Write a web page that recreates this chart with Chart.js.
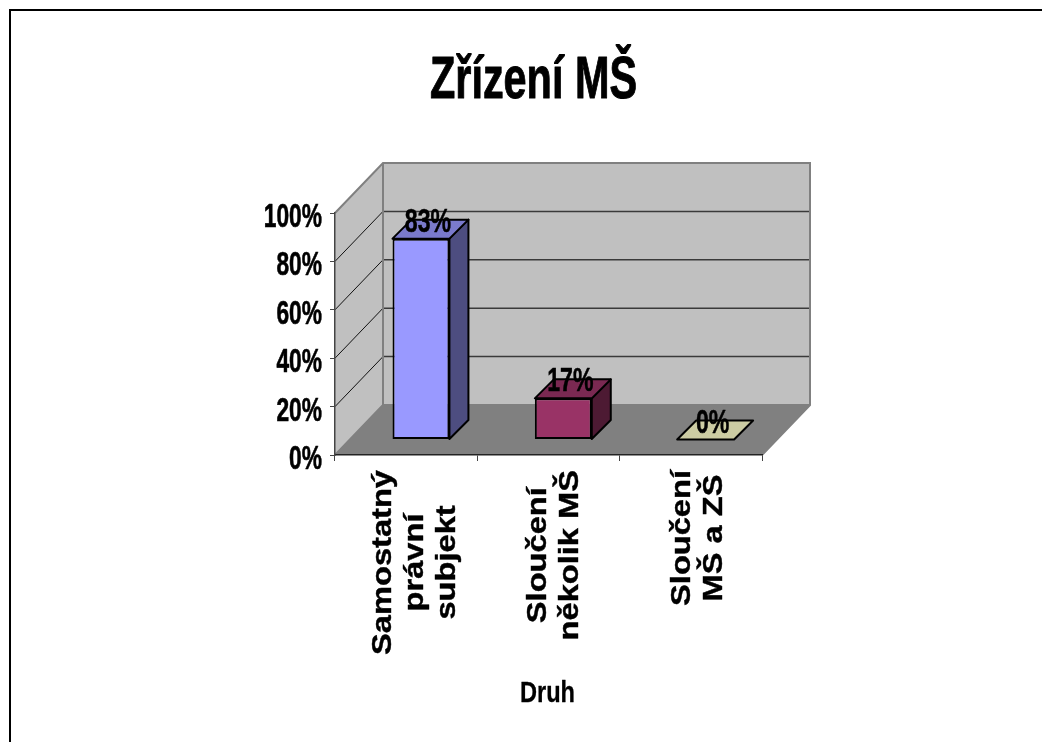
<!DOCTYPE html>
<html><head><meta charset="utf-8">
<style>html,body{margin:0;padding:0;background:#fff}canvas{display:block}</style>
<script src="https://cdn.jsdelivr.net/npm/chart.js@4"></script>
</head><body>
<div style="width:1042px;height:742px"><canvas id="c" width="1042" height="742"></canvas></div>
<script>
const titleText = 'Zřízení MŠ';
const axisTitle = 'Druh';
const categories = [['Samostatný','právní','subjekt'],['Sloučení','několik MŠ'],['Sloučení','MŠ a ZŠ']];
const values = [83, 17, 0];
const valueLabels = ['83%','17%','0%'];
const yTicks = [0,20,40,60,80,100];
const frontColors = ['#9999FF','#993366','#FFFFCC'];
const sideColors = ['#4D4D80','#4D1A33','#80806A'];
const topColors = ['#7A7ACC','#7A2952','#CCCCA3'];
const FONT = '"Liberation Sans",Arial,sans-serif';
const WALL = {dx:48, dy:50}, SHIFT = {dx:14.8, dy:-15.5}, BAR = {dx:19, dy:-19};
const labelNudge = [9,6,7];

function poly(ctx, pts, fill, stroke, lw){
  ctx.beginPath(); pts.forEach((p,i)=> i?ctx.lineTo(p[0],p[1]):ctx.moveTo(p[0],p[1])); ctx.closePath();
  if(fill){ctx.fillStyle=fill;ctx.fill();}
  if(stroke){ctx.strokeStyle=stroke;ctx.lineWidth=lw;ctx.lineJoin='round';ctx.stroke();}
}
function squeezed(ctx,s,x,y,size,sx,align,heavy){
  ctx.save();
  ctx.font='bold '+size+'px '+FONT;
  ctx.textAlign=align||'center';ctx.textBaseline='alphabetic';ctx.fillStyle='#000';ctx.strokeStyle='#000';
  ctx.translate(x,y);ctx.scale(sx,1);ctx.fillText(s,0,0);
  ctx.lineWidth=heavy;ctx.lineJoin='round';ctx.strokeText(s,0,0);
  ctx.restore();
}
const scene = {
  id:'scene',
  beforeDraw(chart){
    const {ctx, scales:{x,y}} = chart;
    const L=x.left,R=x.right,B=y.getPixelForValue(0),T=y.getPixelForValue(100);
    ctx.save();
    ctx.fillStyle='#fff';ctx.fillRect(0,0,chart.width,chart.height);
    ctx.fillStyle='#000';ctx.fillRect(9,9,chart.width-9,2);ctx.fillRect(9,9,2,chart.height-9);
    const d=WALL;
    poly(ctx,[[L+d.dx,B-d.dy],[R+d.dx,B-d.dy],[R+d.dx,T-d.dy],[L+d.dx,T-d.dy]],'#C0C0C0');
    poly(ctx,[[L,B],[L,T],[L+d.dx,T-d.dy],[L+d.dx,B-d.dy]],'#C0C0C0');
    poly(ctx,[[L,B],[R,B],[R+d.dx,B-d.dy],[L+d.dx,B-d.dy]],'#808080');
    yTicks.forEach(v=>{
      if(v===0||v===100)return;
      const p=y.getPixelForValue(v);
      ctx.beginPath();ctx.moveTo(L,p);ctx.lineTo(L+d.dx,p-d.dy);
      ctx.strokeStyle='#111';ctx.lineWidth=1;ctx.stroke();
      ctx.beginPath();ctx.moveTo(L+d.dx,p-d.dy);ctx.lineTo(R+d.dx,p-d.dy);
      ctx.strokeStyle='#3a3a3a';ctx.lineWidth=1.5;ctx.stroke();
    });
    ctx.beginPath();
    ctx.moveTo(L,T);ctx.lineTo(L+d.dx,T-d.dy);ctx.lineTo(R+d.dx,T-d.dy);ctx.lineTo(R+d.dx,B-d.dy);ctx.lineTo(R,B);
    ctx.moveTo(L+d.dx,T-d.dy);ctx.lineTo(L+d.dx,B-d.dy);ctx.lineTo(R+d.dx,B-d.dy);
    ctx.moveTo(L+d.dx,B-d.dy);ctx.lineTo(L,B);
    ctx.strokeStyle='#808080';ctx.lineWidth=2;ctx.stroke();
    ctx.restore();
  },
  beforeDatasetsDraw(chart){
    const ctx=chart.ctx;
    ctx.save();
    ctx.translate(SHIFT.dx,SHIFT.dy);
    chart.getDatasetMeta(0).data.forEach((el,i)=>{
      const {x,y,base,width}=el.getProps(['x','y','base','width'],true);
      const l=x-width/2,r=x+width/2,b=BAR;
      if(values[i]>0) poly(ctx,[[r,y],[r+b.dx,y+b.dy],[r+b.dx,base+b.dy],[r,base]],sideColors[i],'#000',2);
      poly(ctx,[[l,y],[l+b.dx,y+b.dy],[r+b.dx,y+b.dy],[r,y]],topColors[i],'#000',2);
    });
  },
  afterDatasetsDraw(chart){
    const ctx=chart.ctx;
    ctx.restore();
    chart.getDatasetMeta(0).data.forEach((el,i)=>{
      const {x,y}=el.getProps(['x','y'],true);
      squeezed(ctx,valueLabels[i],x+SHIFT.dx+7,y+SHIFT.dy-7,33,0.7,'center',0.5);
    });
  },
  afterDraw(chart){
    const {ctx,scales:{x,y}}=chart;
    squeezed(ctx,titleText,533.5,98,60,0.69,'center',1);
    squeezed(ctx,axisTitle,(x.left+x.right)/2-1,702,30,0.786,'center',0.3);
    yTicks.forEach(v=>squeezed(ctx,v+'%',322,y.getPixelForValue(v)+14,33.5,0.68,'right',0.6));
    ctx.save();
    ctx.fillStyle='#000';ctx.strokeStyle='#000';ctx.lineWidth=0.4;ctx.textAlign='center';ctx.textBaseline='middle';
    ctx.font='bold 28px '+FONT;
    const stretch=1.165, pitch=32;
    categories.forEach((lines,i)=>{
      const cx=x.getPixelForTick(i)+labelNudge[i];
      const maxLen=Math.max(...lines.map(s=>ctx.measureText(s).width))*stretch;
      const cy=470+maxLen/2;
      lines.forEach((s,j)=>{
        ctx.save();
        ctx.translate(cx+(j-(lines.length-1)/2)*pitch,cy);
        ctx.rotate(-Math.PI/2);
        ctx.scale(stretch,1);
        ctx.fillText(s,0,0);ctx.strokeText(s,0,0);
        ctx.restore();
      });
    });
    ctx.restore();
  }
};
new Chart(document.getElementById('c'),{
  type:'bar',
  data:{labels:categories.map(l=>l.join(' ')),datasets:[{data:values,backgroundColor:frontColors,borderColor:'#000',borderWidth:2,borderSkipped:false,barPercentage:0.4,categoryPercentage:1}]},
  plugins:[scene],
  options:{
    responsive:false,animation:false,
    layout:{padding:{left:0,right:280,top:213,bottom:0}},
    plugins:{legend:{display:false},tooltip:{enabled:false},title:{display:false}},
    scales:{
      x:{
        afterFit(s){s.height=287;},
        grid:{drawOnChartArea:false,drawTicks:true,tickLength:6,color:'#444'},
        border:{color:'#222',width:1.5},
        ticks:{display:false}
      },
      y:{
        min:0,max:100,
        afterFit(s){s.width=335;},
        afterBuildTicks(s){s.ticks=yTicks.map(v=>({value:v}));},
        grid:{drawOnChartArea:false,drawTicks:true,tickLength:5,color:'#444'},
        border:{color:'#444',width:1.5},
        ticks:{display:false}
      }
    }
  }
});
</script>
</body></html>
